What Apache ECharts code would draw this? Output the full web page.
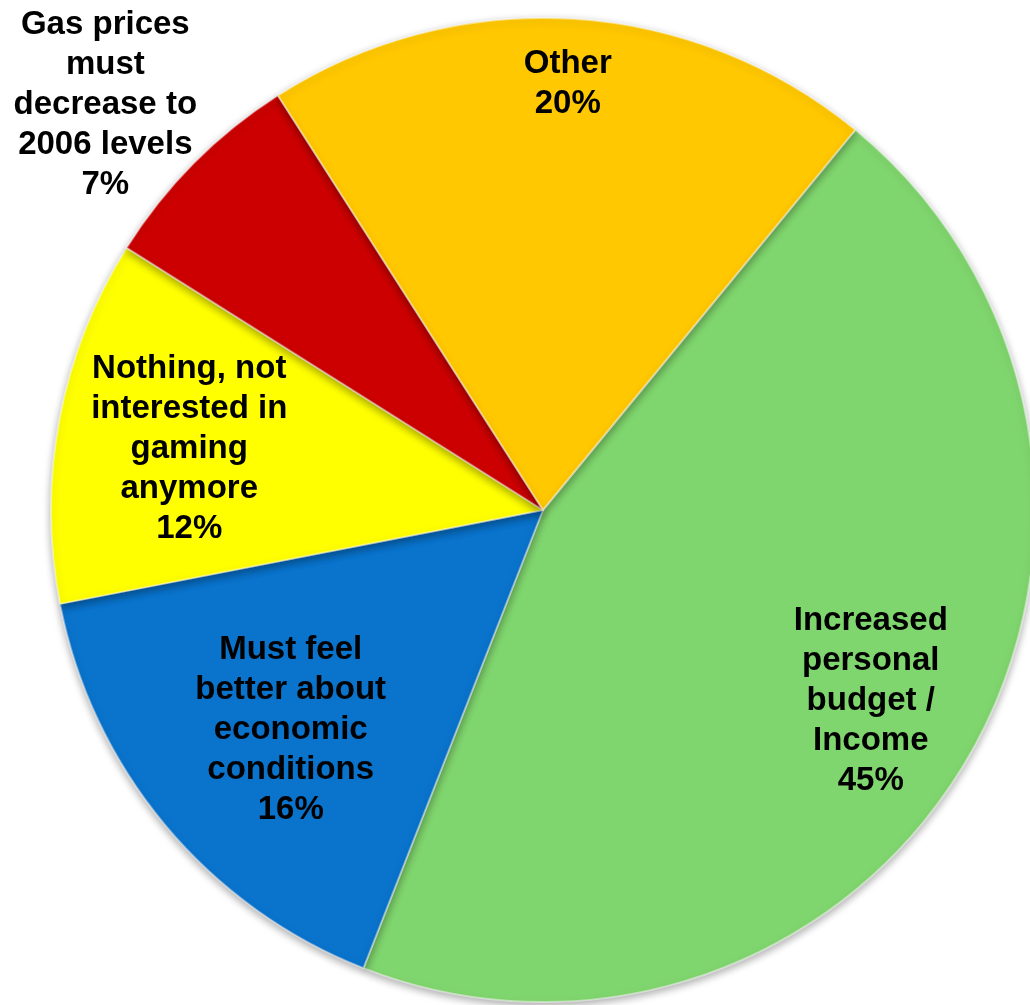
<!DOCTYPE html>
<html>
<head>
<meta charset="utf-8">
<title>Pie</title>
<script src="https://cdn.jsdelivr.net/npm/echarts@6/dist/echarts.min.js"></script>
<style>
  html, body { margin: 0; padding: 0; background: #fff; }
  #chart { width: 1030px; height: 1005px; }
</style>
</head>
<body>
<div id="chart"></div>
<script>
// 数据
const categories = [
  'Increased\npersonal\nbudget /\nIncome',
  'Must feel\nbetter about\neconomic\nconditions',
  'Nothing, not\ninterested in\ngaming\nanymore',
  'Gas prices\nmust\ndecrease to\n2006 levels',
  'Other'
]
const percents = [45, 16, 12, 7, 20]
const colors = ['#80D66E', '#0A73CC', '#FFFF00', '#CC0000', '#FFC800']
// label shift from the default inside position
const labelShift = [[113, 65], [-61, 61], [-109, -15], [-261, -230], [10, -178]]

const myChart = echarts.init(document.getElementById('chart'))
const option = {
  animation: false,
  series: [
    {
      type: 'pie',
      center: [543, 510],
      radius: 492,
      startAngle: 50.6,
      clockwise: true,
      avoidLabelOverlap: false,
      emphasis: { disabled: true },
      itemStyle: {
        borderColor: 'rgba(255,255,255,0.45)',
        borderWidth: 2,
        shadowBlur: 8,
        shadowOffsetY: 3,
        shadowColor: 'rgba(0,0,0,0.35)'
      },
      label: {
        show: true,
        position: 'inside',
        color: '#000',
        fontFamily: '"Liberation Sans", Arial, sans-serif',
        fontWeight: 'bold',
        fontSize: 33,
        lineHeight: 40,
        align: 'center',
        formatter: p => p.name + '\n' + p.value + '%'
      },
      labelLine: { show: false },
      labelLayout: p => ({ dx: labelShift[p.dataIndex][0], dy: labelShift[p.dataIndex][1] }),
      data: categories.map((c, i) => ({
        name: c,
        value: percents[i],
        itemStyle: { color: colors[i] }
      }))
    }
  ]
}
myChart.setOption(option)
</script>
</body>
</html>
